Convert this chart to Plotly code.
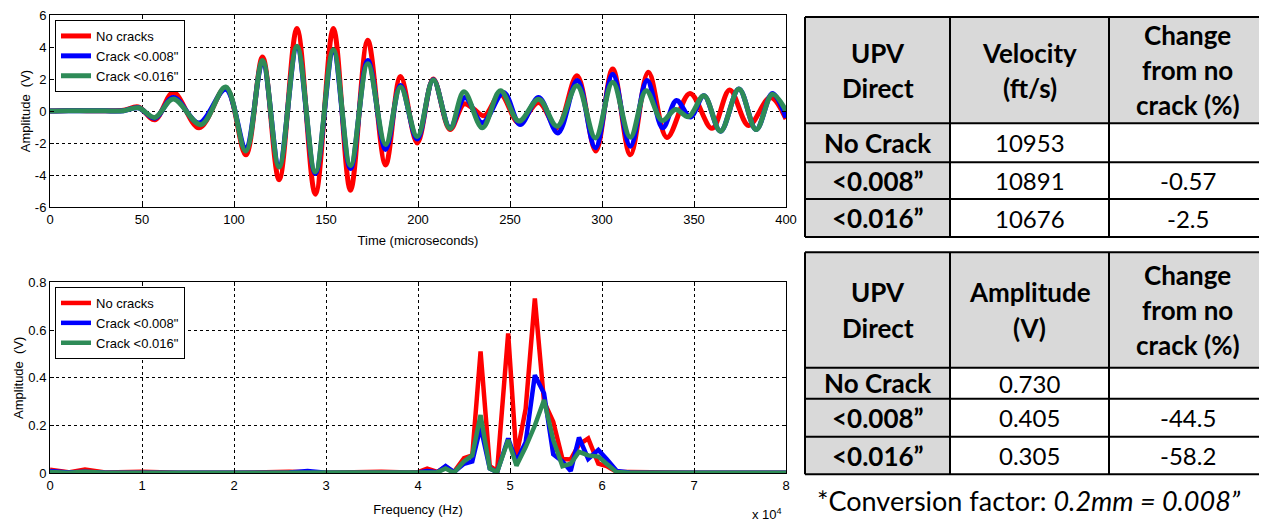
import plotly.graph_objects as go

# ---------------- time-domain data (microseconds, V) ----------------
t_red = [0, 10, 20, 30, 40, 48, 57, 67, 81, 95.5, 106.4, 115.5, 124.5, 134.2, 144.2, 154, 163.3,
         172.7, 182.4, 190.5, 199.6, 208.3, 217.4, 225, 230, 236, 244.8, 254.8, 265.6, 275.6,
         286.4, 296.6, 305.8, 315.4, 325.2, 335.3, 347.8, 359.8, 369.4, 379.7, 391.5, 400]
v_red = [0, 0.03, 0.02, 0.02, 0.05, 0.25, -0.55, 1.15, -1.05, 1.45, -2.74, 3.37, -4.3, 5.16, -5.2,
         5.16, -4.95, 4.42, -3.37, 2.15, -2.0, 2.0, -1.16, 0.45, 0.15, -0.3, 1.05, -0.74, 0.53,
         -1.05, 2.2, -2.5, 2.63, -2.74, 2.42, -1.65, 1.1, -1.08, 1.31, -0.9, 0.85, -0.5]

t_blue = [0, 10, 20, 30, 40, 48, 57, 67, 81, 95.5, 106.4, 115.5, 124.5, 134.2, 144.2, 154, 163.3,
          172.7, 182.4, 190.5, 199.6, 208.3, 217.4, 225.5, 235, 246.5, 255.5, 265.6, 276, 286.6,
          296.4, 305.8, 315.4, 324.5, 333, 340.5, 348, 355.4, 364.4, 374.4, 383.8, 392.6, 400]
v_blue = [0, 0.02, 0.02, 0.01, 0.02, 0.2, -0.45, 0.85, -0.75, 1.35, -2.3, 3.05, -3.4, 3.95, -3.9,
          3.7, -3.6, 3.16, -2.4, 1.6, -1.75, 1.95, -1.05, 0.85, -0.74, 1.16, -0.84, 0.84, -1.37,
          1.9, -2.3, 2.3, -2.2, 1.9, -1.05, 0.65, -0.38, 0.95, -1.26, 1.37, -1.16, 1.1, -0.42]

t_green = [0, 10, 20, 30, 40, 48, 57, 67, 82, 95.5, 106.4, 115.5, 124.5, 134.2, 144.2, 154, 163.3,
           172.7, 182.4, 190.5, 199.6, 208.3, 217.4, 225, 235, 244.8, 254.8, 265.6, 275.6, 286.4,
           296.4, 305.8, 315.4, 324, 332.7, 340, 347, 355.4, 364.4, 374.4, 383.8, 392.6, 400]
v_green = [0, 0.02, 0.02, 0.01, 0.02, 0.2, -0.4, 0.75, -0.85, 1.5, -2.5, 3.16, -3.5, 4.04, -3.8,
           3.83, -3.4, 2.95, -2.1, 1.5, -1.6, 1.94, -1.1, 1.2, -1.05, 1.26, -0.63, 0.74, -0.95,
           1.58, -1.68, 1.8, -1.64, 1.26, -0.6, 0.1, -0.35, 0.95, -1.26, 1.37, -1.16, 1.05, 0.0]

# ---------------- frequency-domain data (x 10^4 Hz, V) ----------------
f_red = [0, 0.2, 0.38, 0.6, 1.0, 1.4, 2.0, 2.6, 3.0, 3.6, 3.9, 4.0, 4.1, 4.21, 4.3, 4.39, 4.5,
         4.59, 4.68, 4.78, 4.86, 4.98, 5.07, 5.17, 5.27, 5.37, 5.47, 5.57, 5.66, 5.75, 5.85,
         5.96, 6.05, 6.16, 6.3, 6.75, 7.0, 8.0]
a_red = [0.015, 0.004, 0.016, 0.003, 0.006, 0.002, 0.002, 0.006, 0.002, 0.006, 0.003, 0.005, 0.02,
         0.006, 0.028, 0.005, 0.063, 0.075, 0.51, 0.03, 0.01, 0.586, 0.07, 0.27, 0.732, 0.3, 0.216,
         0.06, 0.058, 0.12, 0.146, 0.04, 0.03, 0.006, 0.005, 0.006, 0.002, 0.002]

f_blue = [0, 0.2, 0.38, 0.6, 1.0, 2.0, 2.6, 2.8, 3.0, 3.9, 4.0, 4.1, 4.21, 4.3, 4.39, 4.5, 4.59,
          4.68, 4.78, 4.86, 4.98, 5.07, 5.17, 5.27, 5.37, 5.47, 5.57, 5.66, 5.75, 5.85, 5.96,
          6.05, 6.16, 6.3, 7.0, 8.0]
a_blue = [0.01, 0.003, 0.006, 0.002, 0.002, 0.002, 0.003, 0.01, 0.002, 0.002, 0.003, 0.01, 0.004,
          0.03, 0.005, 0.04, 0.05, 0.195, 0.02, 0.005, 0.146, 0.05, 0.13, 0.411, 0.335, 0.08,
          0.05, 0.01, 0.15, 0.06, 0.098, 0.06, 0.01, 0.003, 0.002, 0.002]

f_green = [0, 0.2, 0.38, 0.6, 1.0, 2.0, 3.0, 3.9, 4.0, 4.1, 4.21, 4.3, 4.39, 4.5, 4.59, 4.68,
           4.78, 4.86, 4.98, 5.07, 5.17, 5.27, 5.37, 5.47, 5.57, 5.66, 5.75, 5.85, 5.96, 6.05,
           6.16, 6.3, 7.0, 8.0]
a_green = [0.005, 0.002, 0.006, 0.002, 0.002, 0.002, 0.002, 0.002, 0.003, 0.005, 0.004, 0.02,
           0.002, 0.05, 0.075, 0.244, 0.02, 0.005, 0.14, 0.032, 0.11, 0.2, 0.307, 0.14, 0.03,
           0.04, 0.09, 0.075, 0.07, 0.04, 0.005, 0.002, 0.002, 0.002]

series_names = ["No cracks", "Crack <0.008\"", "Crack <0.016\""]
series_colors = ["#ff0000", "#0000ff", "#2e8b57"]

# ---------------- table data ----------------
tbl_rows = ["No Crack", "<0.008\u201d", "<0.016\u201d"]
velocity = ["10953", "10891", "10676"]
velocity_change = ["", "-0.57", "-2.5"]
amplitude = ["0.730", "0.405", "0.305"]
amplitude_change = ["", "-44.5", "-58.2"]
vel_header = [["UPV", "Direct"], ["Velocity", "(ft/s)"], ["Change", "from no", "crack (%)"]]
amp_header = [["UPV", "Direct"], ["Amplitude", "(V)"], ["Change", "from no", "crack (%)"]]
footnote = "*Conversion factor: <i>0.2mm = 0.008\u201d</i>"

# page has an 8px body margin: figure is shrunk and coordinates shifted accordingly
OFF = 8
W, H = 1267 - OFF, 523 - OFF
def px(x):
    return (x - OFF) / W
def py(y):
    return (H - (y - OFF)) / H

fig = go.Figure()

tfont = dict(family="Liberation Sans, Arial, sans-serif", size=13, color="black")
lfont = dict(family="Liberation Sans, Arial, sans-serif", size=13, color="black")

for (t, v), name, col in zip([(t_red, v_red), (t_blue, v_blue), (t_green, v_green)],
                             series_names, series_colors):
    fig.add_trace(go.Scatter(x=t, y=v, mode="lines", name=name,
                             line=dict(color=col, width=5, shape="spline", smoothing=1.0),
                             xaxis="x", yaxis="y", legend="legend"))

for (f, a), name, col in zip([(f_red, a_red), (f_blue, a_blue), (f_green, a_green)],
                             series_names, series_colors):
    fig.add_trace(go.Scatter(x=f, y=a, mode="lines", name=name,
                             line=dict(color=col, width=4.5),
                             xaxis="x2", yaxis="y2", legend="legend2"))

# ---------------- tables (drawn as shapes + text) ----------------
hdr_fill = "#d9d9d9"
col_edges = [805, 950, 1109, 1266]
bold_font = dict(family="Lato, Carlito, sans-serif", size=26, color="black")
num_font = dict(family="Lato, Carlito, sans-serif", size=24, color="black")
shapes = []
annotations = []

def add_table(header, col2, col3, row_edges, line_gap=35):
    shapes.append(dict(type="rect", xref="paper", yref="paper", layer="below",
                       x0=px(col_edges[0]), x1=px(col_edges[-1]),
                       y0=py(row_edges[1]), y1=py(row_edges[0]),
                       fillcolor=hdr_fill, line=dict(width=0)))
    shapes.append(dict(type="rect", xref="paper", yref="paper", layer="below",
                       x0=px(col_edges[0]), x1=px(col_edges[1]),
                       y0=py(row_edges[-1]), y1=py(row_edges[1]),
                       fillcolor=hdr_fill, line=dict(width=0)))
    for xe in col_edges:
        shapes.append(dict(type="line", xref="paper", yref="paper",
                           x0=px(xe), x1=px(xe), y0=py(row_edges[-1]), y1=py(row_edges[0]),
                           line=dict(color="black", width=2)))
    for ye in row_edges:
        shapes.append(dict(type="line", xref="paper", yref="paper",
                           x0=px(col_edges[0]), x1=px(col_edges[-1]), y0=py(ye), y1=py(ye),
                           line=dict(color="black", width=2)))
    hc = (row_edges[0] + row_edges[1]) / 2
    for ci, lines in enumerate(header):
        xc = (col_edges[ci] + col_edges[ci + 1]) / 2
        n = len(lines)
        for li, txt in enumerate(lines):
            yc = hc + (li - (n - 1) / 2) * line_gap
            annotations.append(dict(text="<b>%s</b>" % txt, x=px(xc), y=py(yc),
                                    xref="paper", yref="paper", showarrow=False,
                                    xanchor="center", yanchor="middle", font=bold_font))
    for ri in range(len(tbl_rows)):
        yc = (row_edges[ri + 1] + row_edges[ri + 2]) / 2
        for ci, (txt, fnt) in enumerate([("<b>%s</b>" % tbl_rows[ri], bold_font),
                                         (col2[ri], num_font), (col3[ri], num_font)]):
            if not txt:
                continue
            xc = (col_edges[ci] + col_edges[ci + 1]) / 2
            annotations.append(dict(text=txt, x=px(xc), y=py(yc), xref="paper", yref="paper",
                                    showarrow=False, xanchor="center", yanchor="middle",
                                    font=fnt))

add_table(vel_header, velocity, velocity_change, [17, 123.3, 162.3, 199, 237])
add_table(amp_header, amplitude, amplitude_change, [252.3, 367.7, 398.7, 436.7, 474.3])

annotations.append(dict(text="x 10<sup>4</sup>", x=px(784), y=py(514), xref="paper",
                        yref="paper", xanchor="right", yanchor="middle", showarrow=False,
                        font=tfont))
annotations.append(dict(text=footnote, x=px(815), y=py(500), xref="paper", yref="paper",
                        xanchor="left", yanchor="middle", showarrow=False,
                        font=dict(family="Lato, Carlito, sans-serif", size=27, color="black")))

ax_common = dict(showline=True, linecolor="black", linewidth=1, mirror="allticks",
                 ticks="inside", ticklen=4, tickcolor="black", showgrid=True,
                 gridcolor="black", griddash="dot", gridwidth=1, zeroline=False,
                 tickfont=tfont, title_font=tfont, automargin=False,
                 ticklabeloverflow="allow")

y1_vals = [-6, -4, -2, 0, 2, 4, 6]
fig.update_layout(
    width=W, height=H, margin=dict(l=0, r=0, t=0, b=0, autoexpand=False),
    paper_bgcolor="white", plot_bgcolor="white",
    xaxis=dict(domain=[px(50), px(786)], range=[0, 400], tickvals=list(range(0, 401, 50)),
               title=dict(text="Time (microseconds)", standoff=10), anchor="y", **ax_common),
    yaxis=dict(domain=[py(207), py(15)], range=[-6, 6], tickvals=y1_vals,
               ticktext=[str(v) for v in y1_vals],
               title=dict(text="Amplitude  (V)", standoff=1), anchor="x", **ax_common),
    xaxis2=dict(domain=[px(50), px(786)], range=[0, 8], tickvals=list(range(0, 9)),
                title=dict(text="Frequency (Hz)", standoff=12), anchor="y2", **ax_common),
    yaxis2=dict(domain=[py(473.3), py(282.3)], range=[0, 0.8], tickvals=[0, 0.2, 0.4, 0.6, 0.8],
                ticktext=["0", "0.2", "0.4", "0.6", "0.8"],
                title=dict(text="Amplitude  (V)", standoff=1), anchor="x2", **ax_common),
    legend=dict(x=px(55), y=py(20), xanchor="left", yanchor="top", bgcolor="white",
                bordercolor="black", borderwidth=1, font=lfont, itemwidth=30,
                tracegroupgap=0),
    legend2=dict(x=px(55), y=py(287), xanchor="left", yanchor="top", bgcolor="white",
                 bordercolor="black", borderwidth=1, font=lfont, itemwidth=30,
                 tracegroupgap=0),
    showlegend=True,
    shapes=shapes,
    annotations=annotations,
)

fig.write_html("out.html")
